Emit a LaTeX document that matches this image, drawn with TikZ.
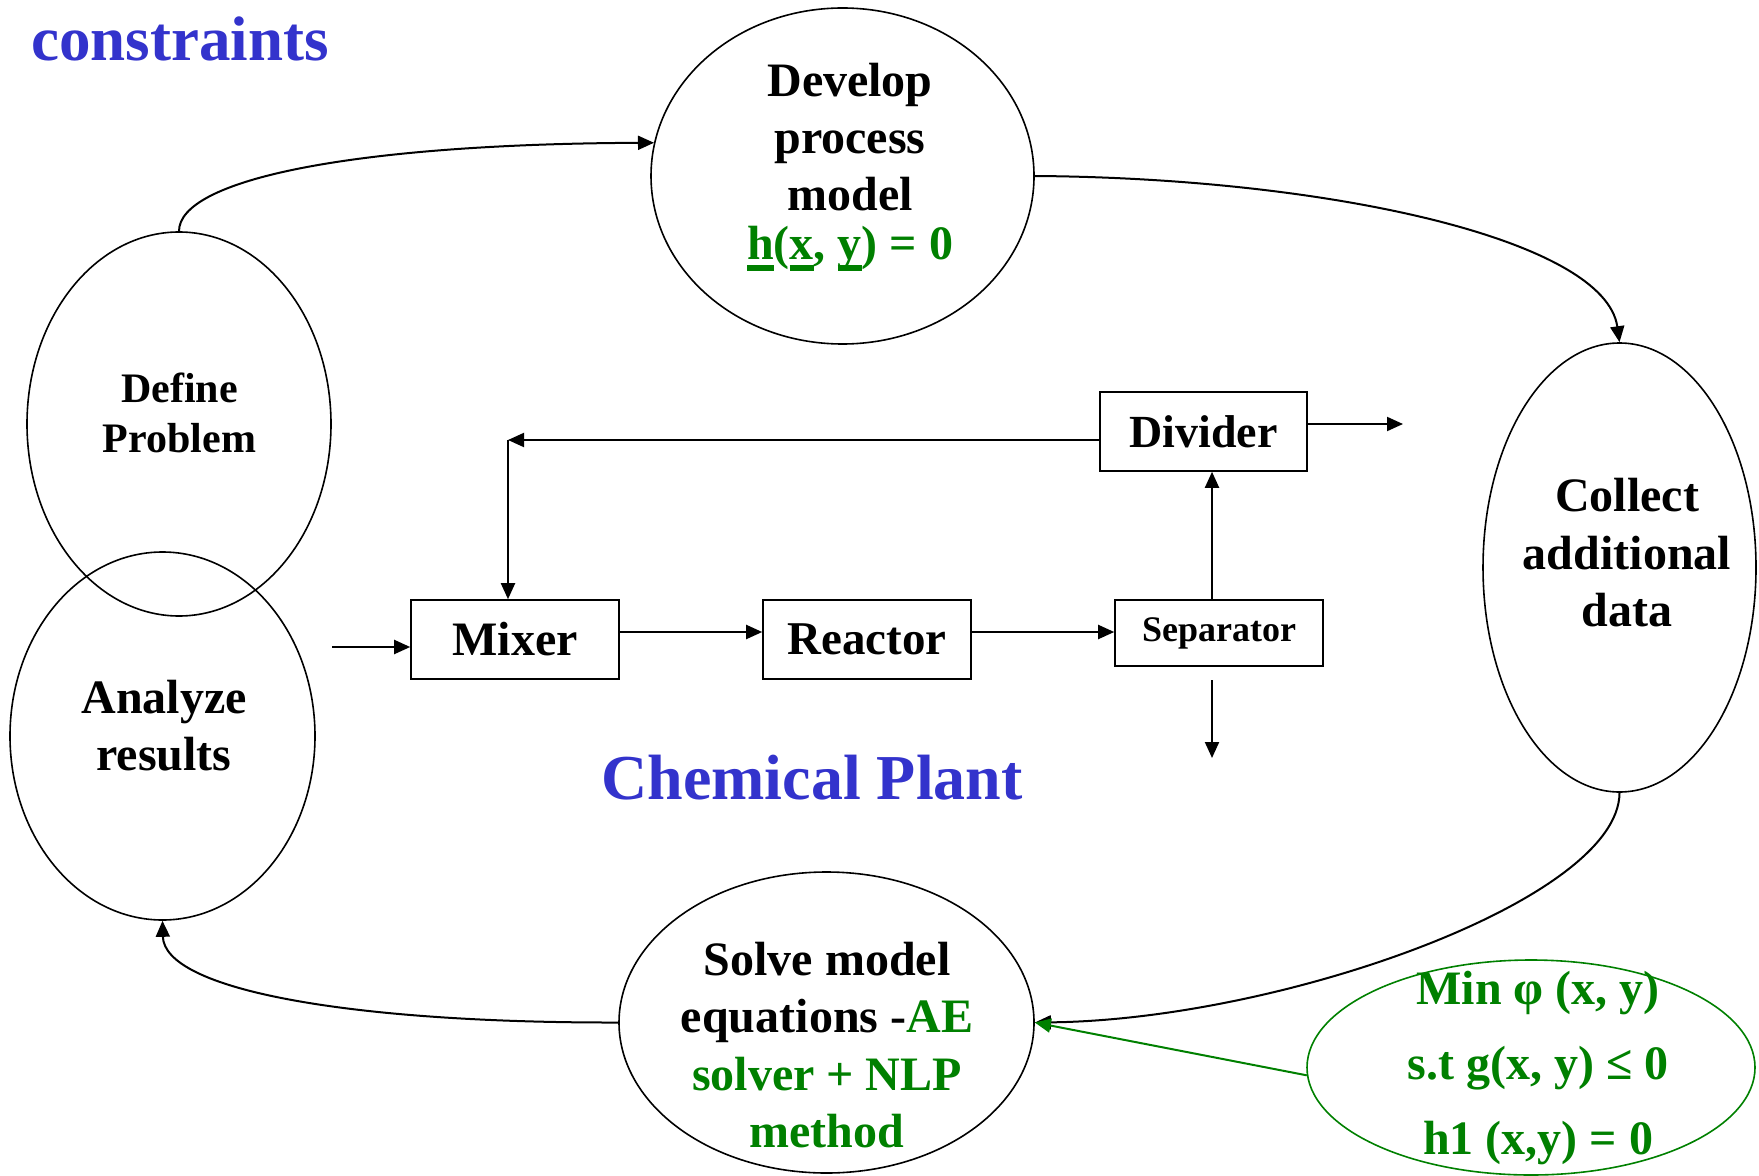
\documentclass[tikz,border=0pt]{standalone}
\usepackage{fontspec}
\setmainfont{Liberation Serif}
\usetikzlibrary{arrows.meta,shapes.geometric}
\definecolor{pblue}{RGB}{51,51,204}
\definecolor{pgreen}{RGB}{0,128,0}
\newcommand\myul[1]{\setbox0=\hbox{#1}\rlap{\rule[-5.5pt]{\wd0}{2.6pt}}#1}
\tikzset{
  ell/.style={draw,ellipse,line width=0.8pt,inner sep=0pt},
  blk/.style={draw,rectangle,line width=0.8pt,inner sep=0pt},
  lbl/.style={align=center,font=\bfseries},
  arr/.style={line width=1pt,-{Triangle[length=8pt,width=7pt]}},
}
\begin{document}
\begin{tikzpicture}[x=0.5pt,y=-0.5pt]
\useasboundingbox (0,0) rectangle (1759,1176);
% ellipses
\node[ell,minimum width=191.5pt,minimum height=168pt] (develop) at (842.5,176) {};
\node[ell,minimum width=152pt,minimum height=192pt] (define) at (179,424) {};
\node[ell,minimum width=152.5pt,minimum height=184pt] (analyze) at (162.5,736) {};
\node[ell,minimum width=136.5pt,minimum height=224.5pt] (collect) at (1619.5,567.5) {};
\node[ell,minimum width=207.5pt,minimum height=150.5pt] (solve) at (826.5,1022.5) {};
\node[ell,draw=pgreen,minimum width=224pt,minimum height=107.5pt] (opt) at (1531,1067.5) {};
% texts in ellipses
\node[lbl,font=\bfseries\fontsize{24}{28.5}\selectfont] (tdevelop) at (850,167)
  {Develop\\process\\model\\[-4pt]\textcolor{pgreen}{\myul{h}(\myul{x}, \myul{y}) = 0}};
\node[lbl,font=\bfseries\fontsize{21}{25}\selectfont] (tdefine) at (179.5,413) {Define\\Problem};
\node[lbl,font=\bfseries\fontsize{24}{28.5}\selectfont] (tanalyze) at (164,726) {Analyze\\results};
\node[lbl,font=\bfseries\fontsize{24}{28.75}\selectfont] (tcollect) at (1627,553) {Collect\\additional\\data};
\node[lbl,font=\bfseries\fontsize{24}{28.75}\selectfont] (tsolve) at (827,1045)
  {Solve model\\equations -\textcolor{pgreen}{AE}\\\textcolor{pgreen}{solver + NLP}\\\textcolor{pgreen}{method}};
\node[lbl,text=pgreen,font=\bfseries\fontsize{24}{37.5}\selectfont] (topt) at (1538,1068.5)
  {Min φ (x, y)\\s.t g(x, y) ≤ 0\\h1 (x,y) = 0};
% titles
\node[anchor=base west,text=pblue,font=\bfseries\fontsize{31.5}{36}\selectfont,inner sep=0pt] (tconstraints) at (31,61) {constraints};
\node[anchor=base west,text=pblue,font=\bfseries\fontsize{32}{36}\selectfont,inner sep=0pt] (tplant) at (601,799) {Chemical Plant};
% boxes
\node[blk,minimum width=104pt,minimum height=39.5pt,font=\bfseries\fontsize{24}{28}\selectfont] (mixer) at (515,639.5) {Mixer};
\node[blk,minimum width=104pt,minimum height=39.5pt,font=\bfseries\fontsize{23.5}{28}\selectfont] (reactor) at (867,639.5) {Reactor};
\node[blk,minimum width=104pt,minimum height=33pt,font=\bfseries\fontsize{18}{22}\selectfont] (separator) at (1219,633) {Separator};
\node[blk,minimum width=103.5pt,minimum height=39.5pt,font=\bfseries\fontsize{23}{28}\selectfont] (divider) at (1203.5,431.5) {Divider};
% coordinates
\coordinate (in0) at (332,647);
\coordinate (y632) at (0,632);
\coordinate (sx) at (1212,0);
\coordinate (sepOutA) at (1212,680);
\coordinate (sepOut) at (1212,758);
\coordinate (divOut) at (1403,424);
\coordinate (corner) at (508,440);
% plant connectors
\draw[arr] (in0) -- (mixer.west |- in0);
\draw[arr] (mixer.east |- y632) -- (reactor.west |- y632);
\draw[arr] (reactor.east |- y632) -- (separator.west |- y632);
\draw[arr] (separator.north -| sx) -- (divider.south -| sx);
\draw[arr] (sepOutA) -- (sepOut);
\draw[arr] (divider.east |- divOut) -- (divOut);
\draw[arr] (divider.west |- corner) -- (corner);
\draw[arr] (corner) -- (mixer.north -| corner);
% cycle connectors
\draw[arr] (define.north) .. controls (179,180) and (350,144) .. (develop.170);
\draw[arr] (develop.east) .. controls (1330,178) and (1605,240) .. (collect.north);
\draw[arr] (collect.south) .. controls (1619,900) and (1280,1020) .. (solve.east);
\draw[arr] (solve.west) .. controls (350,1023) and (164,990) .. (analyze.south);
\draw[arr,draw=pgreen,fill=pgreen] (opt.182) -- (solve.east);
\end{tikzpicture}
\end{document}
